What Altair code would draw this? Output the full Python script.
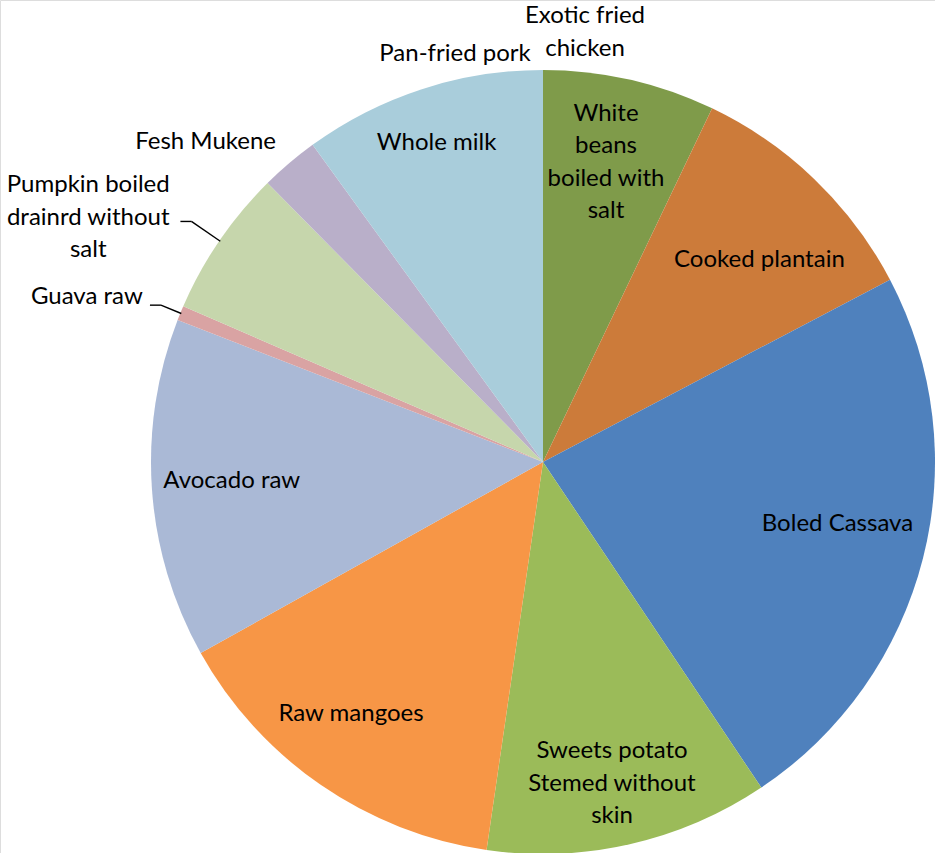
import altair as alt
import pandas as pd

categories = ["Exotic fried chicken", "White beans boiled with salt", "Cooked plantain",
              "Boled Cassava", "Sweets potato Stemed without skin", "Raw mangoes",
              "Avocado raw", "Guava raw", "Pumpkin boiled drainrd without salt",
              "Fesh Mukene", "Whole milk", "Pan-fried pork"]
labels = ["Exotic fried\nchicken", "White\nbeans\nboiled with\nsalt", "Cooked plantain",
          "Boled Cassava", "Sweets potato\nStemed without\nskin", "Raw mangoes",
          "Avocado raw", "Guava raw", "Pumpkin boiled\ndrainrd without\nsalt",
          "Fesh Mukene", "Whole milk", "Pan-fried pork"]
values = [0, 7.1, 10.2, 23.3, 11.7, 14.6, 14.0, 0.6, 6.1, 2.4, 10.0, 0]

colors = ["#7F9B4A", "#7F9B4A", "#CC7B3A", "#4F81BD", "#9BBB59", "#F79646",
          "#AAB9D6", "#D9A3A3", "#C6D6AC", "#B9AFC9", "#A9CDDB", "#A9CDDB"]

df = pd.DataFrame({"idx": list(range(len(categories))), "category": categories,
                   "label": labels, "value": values})

CX, CY, R = 543, 462, 392
FONT = "Lato"
FS = 24
LH = 32.5

base = alt.Chart(df).transform_window(
    cum="sum(value)", sort=[alt.SortField("idx")], frame=[None, 0]
).transform_joinaggregate(total="sum(value)").transform_calculate(
    start="2*PI*(datum.cum - datum.value)/datum.total",
    end="2*PI*datum.cum/datum.total",
).transform_calculate(mid="(datum.start + datum.end)/2")

arcs = base.mark_arc(x=CX, y=CY, radius=R).encode(
    theta=alt.Theta("start:Q", scale=None),
    theta2="end:Q",
    color=alt.Color("category:N", scale=alt.Scale(domain=categories, range=colors), legend=None),
    order=alt.Order("idx:Q"),
)


def label_layer(cat, radius, dx, dy):
    return base.transform_filter(alt.datum.category == cat).mark_text(
        x=CX, y=CY, radius=radius, dx=dx, dy=dy, font=FONT, fontSize=FS, lineBreak="\n",
        lineHeight=LH, color="black", align="center", baseline="middle").encode(
        theta=alt.Theta("mid:Q", scale=None), text="label:N")


# (radius, dx, dy) label placement per slice
placement = {
    "White beans boiled with salt": (312, -6, -44),
    "Cooked plantain": (312, 0, 23),
    "Boled Cassava": (312, -8, -15),
    "Sweets potato Stemed without skin": (312, 0, -15),
    "Raw mangoes": (312, -15, -5),
    "Avocado raw": (312, 0, -3),
    "Whole milk": (312, -10, -22),
    "Exotic fried chicken": (432, 42, -14),
    "Pan-fried pork": (409, -88, 1),
    "Fesh Mukene": (421, -65, 1),
    "Pumpkin boiled drainrd without salt": (425, -104, -37),
    "Guava raw": (412, -75, -9),
}
text_layers = [label_layer(c, *p) for c, p in placement.items()]

leader_cats = ["Guava raw", "Pumpkin boiled drainrd without salt"]
leaders = base.transform_filter(
    alt.FieldOneOfPredicate(field="category", oneOf=leader_cats)
).transform_calculate(
    lr=f"{R} + 21 + 13*(datum.category == 'Pumpkin boiled drainrd without salt' ? 1 : 0)"
).transform_calculate(
    lx1=f"{CX} + {R - 1}*sin(datum.mid)", ly1=f"{CY} - {R - 1}*cos(datum.mid)",
    lx2=f"{CX} + datum.lr*sin(datum.mid)",
    ly2=f"{CY} - datum.lr*cos(datum.mid)",
).transform_calculate(lx3="datum.lx2 - 11")

diag = leaders.mark_rule(color="black", strokeWidth=1.4).encode(
    x=alt.X("lx1:Q", scale=None), y=alt.Y("ly1:Q", scale=None),
    x2="lx2:Q", y2="ly2:Q")
horiz = leaders.mark_rule(color="black", strokeWidth=1.4).encode(
    x=alt.X("lx2:Q", scale=None), y=alt.Y("ly2:Q", scale=None),
    x2="lx3:Q", y2="ly2:Q")

chart = alt.layer(arcs, *text_layers, diag, horiz).properties(
    width=935, height=853, autosize=alt.AutoSizeParams(type="none"), padding=0,
).configure_view(stroke=None).configure(background="white")

chart.save("out.html", embed_options={"renderer": "svg", "actions": False})
